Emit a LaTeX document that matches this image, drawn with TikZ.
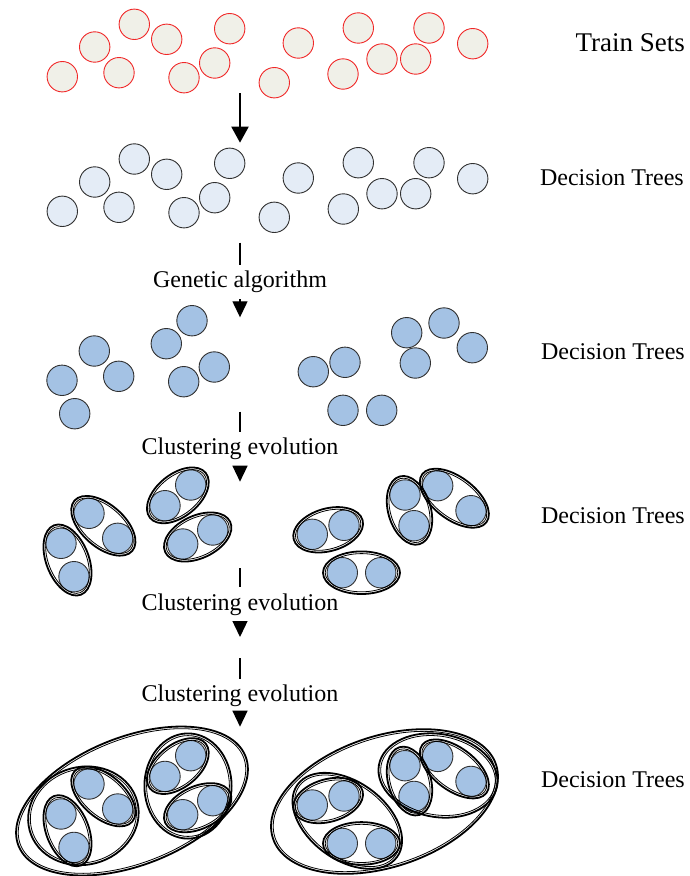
\documentclass[tikz,border=0pt]{standalone}
\usepackage{fontspec}
\setmainfont{Liberation Serif}
\usetikzlibrary{arrows.meta,calc,shapes.geometric}
\definecolor{tsfill}{HTML}{F0F0E8}
\definecolor{tsline}{HTML}{F02828}
\definecolor{dtfillA}{HTML}{E4ECF6}
\definecolor{dtfillB}{HTML}{A4C2E4}
\definecolor{dtline}{HTML}{303030}
% pair ellipse round two named circles: name, circle 1, circle 2
\newcommand\pairgrp[3]{%
  \path let \p1=(#2.center), \p2=(#3.center),
    \n1={atan2(\y2-\y1,\x2-\x1)}, \n2={veclen(\x2-\x1,\y2-\y1)} in
    node[grpout, rotate=\n1, minimum width=\n2+38.6pt, minimum height=42.6pt] (#1)
      at ($(#2.center)!0.5!(#3.center)$) {}
    node[grpin, rotate=\n1, minimum width=\n2+34.2pt, minimum height=38.2pt] (#1i)
      at ($(#2.center)!0.5!(#3.center)$) {};}
% larger ellipse: name, x, y, rotation, width, height
\newcommand\biggrp[6]{%
  \node[grpout, rotate=#4, minimum width=#5pt, minimum height=#6pt] (#1) at (#2,#3) {};
  \node[grpin, rotate=#4, minimum width=#5pt-4.4pt, minimum height=#6pt-4.4pt] (#1i) at (#2,#3) {};}
\begin{document}
\begin{tikzpicture}[x=1pt,y=-1pt,
  tset/.style={circle, draw=tsline, fill=tsfill, line width=0.9pt, minimum size=30.4pt, inner sep=0pt},
  treeA/.style={circle, draw=dtline, fill=dtfillA, line width=0.9pt, minimum size=30.4pt, inner sep=0pt},
  treeB/.style={circle, draw=dtline, fill=dtfillB, line width=0.9pt, minimum size=30.4pt, inner sep=0pt},
  grpout/.style={ellipse, draw=black, line width=1.8pt, inner sep=0pt},
  grpin/.style={ellipse, draw=black, line width=0.8pt, inner sep=0pt},
  flow/.style={line width=1.3pt},
  flowarrow/.style={line width=1.3pt, -{Triangle[width=15pt,length=16pt]}},
  bigarrow/.style={line width=2pt, -{Triangle[width=17pt,length=16pt]}},
  steplabel/.style={font=\fontsize{24}{24}\selectfont, text height=16pt, text depth=5pt, inner sep=6.6pt},
  rowlabel/.style={font=\fontsize{24}{24}\selectfont, anchor=base east, inner sep=0pt}]
\useasboundingbox (0,0) rectangle (689,876);

% ---- row 1: train sets
\foreach \n/\x/\y in {1/62.3/76.7, 2/94.7/47, 3/134.3/24.3, 4/119/72.7, 5/166.7/39.3,
  6/184/77.7, 7/214.7/63, 8/229.7/28.7, 9/298.3/43, 10/274.3/82.7, 11/358.3/28,
  12/343/74, 13/382/59, 14/415.7/59, 15/429/28, 16/472.7/43.7}
  \node[tset] (s\n) at (\x,\y) {};
\node[rowlabel, font=\fontsize{27}{27}\selectfont] (lts) at (685,51.7) {Train Sets};

% ---- row 2: decision trees
\foreach \n/\x/\y in {1/62.3/211.3, 2/94.7/182, 3/134.3/159, 4/119/207.3, 5/166.7/174.3,
  6/184/212.7, 7/214.7/197.7, 8/229.7/163.3, 9/298.3/178, 10/274.3/217.3, 11/358.3/162.7,
  12/343.3/209, 13/382/193.7, 14/415.7/193.7, 15/429/162.7, 16/472.7/178.7}
  \node[treeA] (t\n) at (\x,\y) {};
\node[rowlabel] (ldt1) at (684,185) {Decision Trees};

% ---- row 3
\foreach \n/\x/\y in {1/62/380.3, 2/94.3/351, 3/118.7/376.3, 4/74.7/413.7, 5/192/320.7,
  6/166.3/343.7, 7/214.3/367, 8/183.7/381.7, 9/313.3/371.7, 10/345/362.3, 11/343/410.3,
  12/381.7/410.3, 13/406.7/332.7, 14/444/323, 15/415.3/363, 16/472.3/347.7}
  \node[treeB] (u\n) at (\x,\y) {};
\node[rowlabel] (ldt2) at (685,359) {Decision Trees};

% ---- row 4
\foreach \g/\xa/\ya/\xb/\yb in {A/61/543.3/74/576.7, B/89/513.3/117.7/538.3,
  C/190.7/485/165/505.7, D/212.7/530/182.7/544, E/312.3/534.3/344/525.3,
  F/342.3/572.7/380.7/572.7, G/405/495/414/525.7, H/437.7/485.7/471/510.7}{
  \node[treeB] (v\g1) at (\xa,\ya) {};
  \node[treeB] (v\g2) at (\xb,\yb) {};
}
\foreach \g in {A,B,C,D,E,F,G,H}{\pairgrp{pv\g}{v\g1}{v\g2}}
\node[rowlabel] (ldt3) at (685,523) {Decision Trees};

% ---- row 5
\foreach \g/\xa/\ya/\xb/\yb in {A/61/814/74/847.4, B/89/784/117.7/809,
  C/190.7/755.7/165/776.4, D/212.7/800.7/182.7/814.7, E/312.3/805/344/796,
  F/342.3/843.4/380.7/843.4, G/405/765.7/414/796.4, H/437.7/756.4/471/781.4}{
  \node[treeB] (w\g1) at (\xa,\ya) {};
  \node[treeB] (w\g2) at (\xb,\yb) {};
}
\foreach \g in {A,B,C,D,E,F,G,H}{\pairgrp{pw\g}{w\g1}{w\g2}}
\biggrp{m1}{83.4}{815.8}{15}{111.4}{97.8}
\biggrp{m2}{188}{786}{0}{87.2}{105.2}
\biggrp{m3}{347.3}{820.8}{-36}{123}{78}
\biggrp{m4}{438}{775.5}{-10}{120}{83}
\biggrp{o1}{132}{801}{21.5}{244}{128}
\biggrp{o2}{384.5}{801.5}{18.3}{235}{131}
\node[rowlabel] (ldt4) at (685,787) {Decision Trees};

% ---- flow arrows
\coordinate (a0) at (240,93.3);
\coordinate (a1) at (240,142.7);
\draw[bigarrow] (a0) -- (a1);

\coordinate (b0) at (240,242.7);
\node[steplabel] (lga) at (240,281.8) {Genetic algorithm};
\coordinate (b1) at (240,317.3);
\draw[flow] (b0) -- (lga.north);
\draw[flowarrow] (lga.south) -- (b1);

\coordinate (c0) at (240,411.7);
\node[steplabel] (lce1) at (240,448.8) {Clustering evolution};
\coordinate (c1) at (240,481.7);
\draw[flow] (c0) -- (lce1.north);
\draw[flowarrow] (lce1.south) -- (c1);

\coordinate (d0) at (240,568);
\node[steplabel] (lce2) at (240,604.5) {Clustering evolution};
\coordinate (d1) at (240,637);
\draw[flow] (d0) -- (lce2.north);
\draw[flowarrow] (lce2.south) -- (d1);

\coordinate (e0) at (240,658);
\node[steplabel] (lce3) at (240,696.2) {Clustering evolution};
\coordinate (e1) at (240,726.7);
\draw[flow] (e0) -- (lce3.north);
\draw[flowarrow] (lce3.south) -- (e1);
\end{tikzpicture}
\end{document}
